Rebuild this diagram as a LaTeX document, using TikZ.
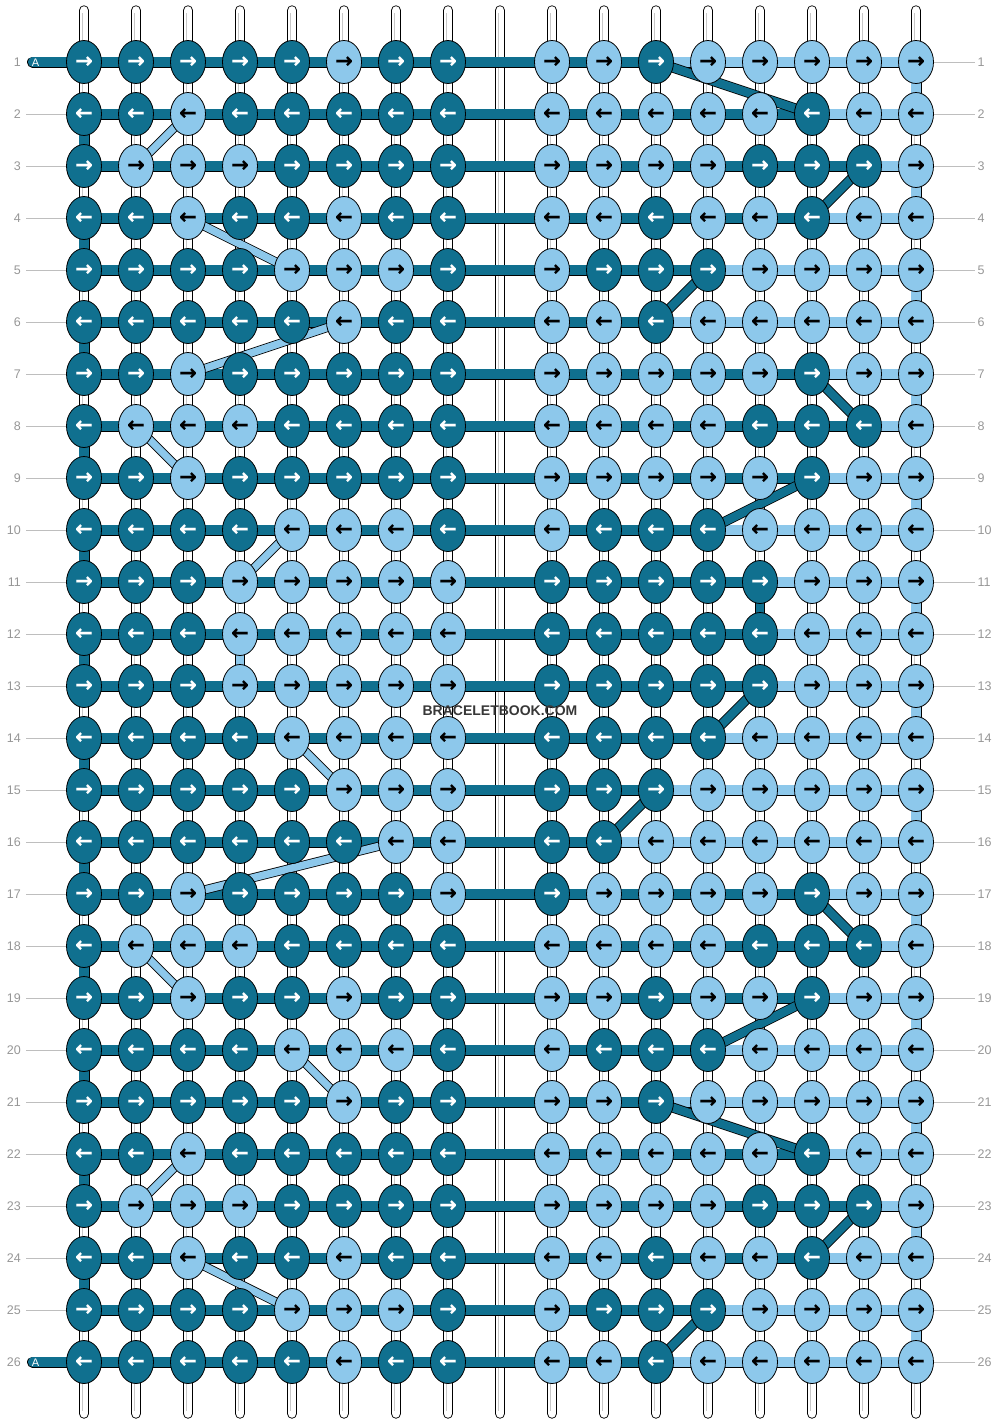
\documentclass[tikz,border=0pt]{standalone}
\usepackage{fontspec}
\setmainfont{Liberation Sans}
\newfontfamily\arrowfont[FakeBold=0.5]{DejaVu Sans Bold}
\usetikzlibrary{shapes.geometric}
\definecolor{dk}{RGB}{16,112,143}
\definecolor{lt}{RGB}{141,200,235}
\definecolor{lbl}{RGB}{150,150,150}
\definecolor{lblgray}{RGB}{190,190,190}
\definecolor{wm}{RGB}{55,55,55}
\begin{document}
\begin{tikzpicture}[x=1pt,y=-1pt,
  strandD/.style={draw=black,line width=0.9pt,double=dk,double distance=9.2pt},
  strandL/.style={draw=black,line width=0.9pt,double=lt,double distance=9.2pt},
  diagD/.style={draw=black,line width=0.8pt,double=dk,double distance=8.4pt},
  diagL/.style={draw=black,line width=0.8pt,double=lt,double distance=7.4pt},
  tube/.style={draw=black,line width=0.9pt,double=white,double distance=8.6pt,line cap=round},
  tubein/.style={draw=black!22,line width=0.7pt,double=white,double distance=3pt},
  knotD/.style={ellipse,draw=black,line width=0.8pt,fill=dk,minimum width=35pt,minimum height=43pt,inner sep=0pt,text=white,font=\arrowfont\fontsize{21}{21}\selectfont},
  knotL/.style={knotD,fill=lt,text=black},
  rowlbl/.style={text=lbl,font=\fontsize{12.5}{12.5}\selectfont,inner sep=0pt},
  lblline/.style={draw=lblgray,line width=0.9pt},
  atext/.style={text=white,font=\fontsize{11}{11}\selectfont,inner sep=0pt},
  wmark/.style={text=wm,font=\bfseries\fontsize{14}{14}\selectfont,inner sep=1pt}
]
\useasboundingbox (0,0) rectangle (1000,1424);
% grid coordinates
\foreach \r in {1,...,26}{
  \foreach \c in {1,...,16}{
    \pgfmathsetmacro\xx{84+52*(\c-1)+52*(\c>8)}
    \pgfmathsetmacro\yy{62+52*(\r-1)}
    \coordinate (p\r-\c) at (\xx,\yy);
  }
}
% row label lines and numbers
\foreach \r in {1,...,26}{
  \pgfmathsetmacro\yy{62+52*(\r-1)}
  \coordinate (rl\r) at (975,\yy);
  \draw[lblline] (p\r-16) -- (rl\r);
  \node[rowlbl,anchor=east] (nl\r) at (21,\yy) {\r};
  \node[rowlbl,anchor=west] (nr\r) at (977.5,\yy) {\r};
}
\foreach \r in {2,...,25}{
  \pgfmathsetmacro\yy{62+52*(\r-1)}
  \coordinate (ll\r) at (26,\yy);
  \draw[lblline] (ll\r) -- (p\r-1);
}
% vertical tubes
\foreach \c in {1,...,16}{
  \pgfmathsetmacro\xx{84+52*(\c-1)+52*(\c>8)}
  \coordinate (t\c) at (\xx,10.5);
  \coordinate (b\c) at (\xx,1413.5);
  \coordinate (ti\c) at (\xx,13);
  \coordinate (bi\c) at (\xx,1411);
  \draw[tube] (t\c) -- (b\c);
  \draw[tubein] (ti\c) -- (bi\c);
}
\coordinate (tm) at (500,10.5);
\coordinate (bm) at (500,1413.5);
\coordinate (tmi) at (500,13);
\coordinate (bmi) at (500,1411);
\draw[tube] (tm) -- (bm);
\draw[tubein] (tmi) -- (bmi);
% horizontal strands
\foreach \r/\T in {1/11,2/14,3/15,4/14,5/12,6/11,7/14,8/15,9/14,10/12,11/13,12/13,13/13,14/12,15/11,16/10,17/14,18/15,19/14,20/12,21/11,22/14,23/15,24/14,25/12,26/11}{
  \foreach \c in {1,...,15}{
    \pgfmathtruncatemacro\cn{\c+1}
    \ifnum\c<\T
      \draw[strandD] (p\r-\c) -- (p\r-\cn);
    \else
      \draw[strandL] (p\r-\c) -- (p\r-\cn);
    \fi
  }
}
% A ends
\coordinate (a1) at (32.5,62);
\coordinate (a26) at (32.5,1362);
\draw[strandD,line cap=round] (a1) -- (p1-1);
\draw[strandD,line cap=round] (a26) -- (p26-1);
\node[atext] (A1) at (35.5,62.5) {A};
\node[atext] (A26) at (35.5,1362.5) {A};
% edge turns
\foreach \r in {2,4,...,24}{
  \pgfmathtruncatemacro\rn{\r+1}
  \draw[strandD] (p\r-1) -- (p\rn-1);
}
\foreach \r in {1,3,...,25}{
  \pgfmathtruncatemacro\rn{\r+1}
  \draw[strandL] (p\r-16) -- (p\rn-16);
}
% diagonals
\foreach \r/\a/\b in {1/11/14,3/15/14,5/12/11,7/14/15,9/14/12,11/13/13,13/13/12,15/11/10,17/14/15,19/14/12,21/11/14,23/15/14,25/12/11}{
  \pgfmathtruncatemacro\rn{\r+1}
  \draw[diagD] (p\r-\a) -- (p\rn-\b);
}
\foreach \r/\a/\b in {2/3/2,4/3/5,6/6/3,8/2/3,10/5/4,12/4/4,14/5/6,16/7/3,18/2/3,20/5/6,22/3/2,24/3/5}{
  \pgfmathtruncatemacro\rn{\r+1}
  \draw[diagL] (p\r-\a) -- (p\rn-\b);
}
% knots
\foreach \row [count=\r] in {
 {1,1,1,1,1,0,1,1,0,0,1,0,0,0,0,0},
 {1,1,0,1,1,1,1,1,0,0,0,0,0,1,0,0},
 {1,0,0,0,1,1,1,1,0,0,0,0,1,1,1,0},
 {1,1,0,1,1,0,1,1,0,0,1,0,0,1,0,0},
 {1,1,1,1,0,0,0,1,0,1,1,1,0,0,0,0},
 {1,1,1,1,1,0,1,1,0,0,1,0,0,0,0,0},
 {1,1,0,1,1,1,1,1,0,0,0,0,0,1,0,0},
 {1,0,0,0,1,1,1,1,0,0,0,0,1,1,1,0},
 {1,1,0,1,1,1,1,1,0,0,0,0,0,1,0,0},
 {1,1,1,1,0,0,0,1,0,1,1,1,0,0,0,0},
 {1,1,1,0,0,0,0,0,1,1,1,1,1,0,0,0},
 {1,1,1,0,0,0,0,0,1,1,1,1,1,0,0,0},
 {1,1,1,0,0,0,0,0,1,1,1,1,1,0,0,0},
 {1,1,1,1,0,0,0,0,1,1,1,1,0,0,0,0},
 {1,1,1,1,1,0,0,0,1,1,1,0,0,0,0,0},
 {1,1,1,1,1,1,0,0,1,1,0,0,0,0,0,0},
 {1,1,0,1,1,1,1,0,1,0,0,0,0,1,0,0},
 {1,0,0,0,1,1,1,1,0,0,0,0,1,1,1,0},
 {1,1,0,1,1,0,1,1,0,0,1,0,0,1,0,0},
 {1,1,1,1,0,0,0,1,0,1,1,1,0,0,0,0},
 {1,1,1,1,1,0,1,1,0,0,1,0,0,0,0,0},
 {1,1,0,1,1,1,1,1,0,0,0,0,0,1,0,0},
 {1,0,0,0,1,1,1,1,0,0,0,0,1,1,1,0},
 {1,1,0,1,1,0,1,1,0,0,1,0,0,1,0,0},
 {1,1,1,1,0,0,0,1,0,1,1,1,0,0,0,0},
 {1,1,1,1,1,0,1,1,0,0,1,0,0,0,0,0}}{
  \foreach \v [count=\c] in \row {
    \ifodd\r \def\ar{→}\else \def\ar{←}\fi
    \ifnum\v=1
      \node[knotD] (k\r-\c) at (p\r-\c) {\ar};
    \else
      \node[knotL] (k\r-\c) at (p\r-\c) {\ar};
    \fi
  }
}
% watermark
\node[wmark] (wmk) at (500,711) {BRACELETBOOK.COM};
\end{tikzpicture}
\end{document}
